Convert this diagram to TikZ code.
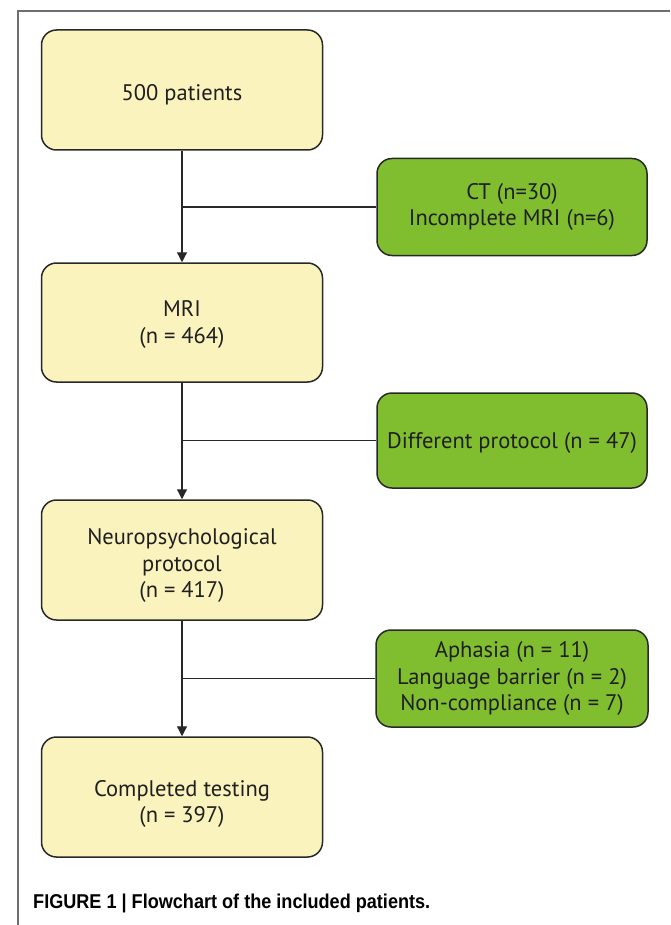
\documentclass[tikz,border=0pt]{standalone}
\usepackage{fontspec}
\setmainfont{PT Sans}
\newfontfamily\capfont{Liberation Sans}
\usetikzlibrary{arrows.meta}
\definecolor{boxyellow}{RGB}{250,243,190}
\definecolor{boxgreen}{RGB}{128,190,48}
\definecolor{edgecol}{RGB}{40,40,40}
\definecolor{framecol}{RGB}{110,110,110}
\newcommand\lowtext[2]{\raisebox{-#1}[\height][\depth]{\begin{tabular}{@{}c@{}}#2\end{tabular}}}
\tikzset{
  mainbox/.style={draw=edgecol, line width=1.5pt, fill=boxyellow, rounded corners=15pt,
    minimum width=281pt, minimum height=120pt, align=center, inner sep=0pt,
    font=\fontsize{22.5}{26.5}\selectfont, text=black!88},
  exclbox/.style={draw=edgecol, line width=1.5pt, fill=boxgreen, rounded corners=15pt,
    minimum width=270pt, minimum height=97pt, align=center, inner sep=0pt,
    font=\fontsize{22.5}{26.5}\selectfont, text=black!88},
  flow/.style={draw=edgecol, line width=1.3pt, -{Triangle[length=10pt,width=10pt]}},
  branch/.style={draw=edgecol, line width=1.3pt}
}
\begin{document}
\begin{tikzpicture}[x=1pt, y=-1pt]
\useasboundingbox (0,0) rectangle (670,925);
\fill[white] (0,0) rectangle (670,925);
\draw[framecol, line width=1.5pt] (670,11) -- (18,11) -- (18,925);

\node[mainbox] (p500) at (182,90) {\lowtext{5pt}{500 patients}};
\node[mainbox, minimum height=119pt] (mri) at (182,322.5) {\lowtext{2pt}{MRI\\(n = 464)}};
\node[mainbox] (neuro) at (182,560) {\lowtext{6pt}{Neuropsychological\\protocol\\(n = 417)}};
\node[mainbox] (done) at (182,797) {\lowtext{7pt}{Completed testing\\(n = 397)}};

\node[exclbox] (ct) at (512,207) {CT (n=30)\\Incomplete MRI (n=6)};
\node[exclbox, minimum height=95pt] (diff) at (512,440.5) {\lowtext{3pt}{Different protocol (n = 47)}};
\node[exclbox, minimum width=272pt] (aph) at (512,678.5) {Aphasia (n = 11)\\Language barrier (n = 2)\\Non-compliance (n = 7)};

\draw[flow] (p500) -- (mri);
\draw[flow] (mri) -- (neuro);
\draw[flow] (neuro) -- (done);

\draw[branch] (ct.west) -- (ct.west -| p500.south);
\draw[branch] (diff.west) -- (diff.west -| mri.south);
\draw[branch] (aph.west) -- (aph.west -| neuro.south);

\node[anchor=base west, inner sep=0pt] (caption) at (33,908)
  {\resizebox{397pt}{14.5pt}{\capfont\bfseries FIGURE 1 | Flowchart of the included patients.}};
\end{tikzpicture}
\end{document}
